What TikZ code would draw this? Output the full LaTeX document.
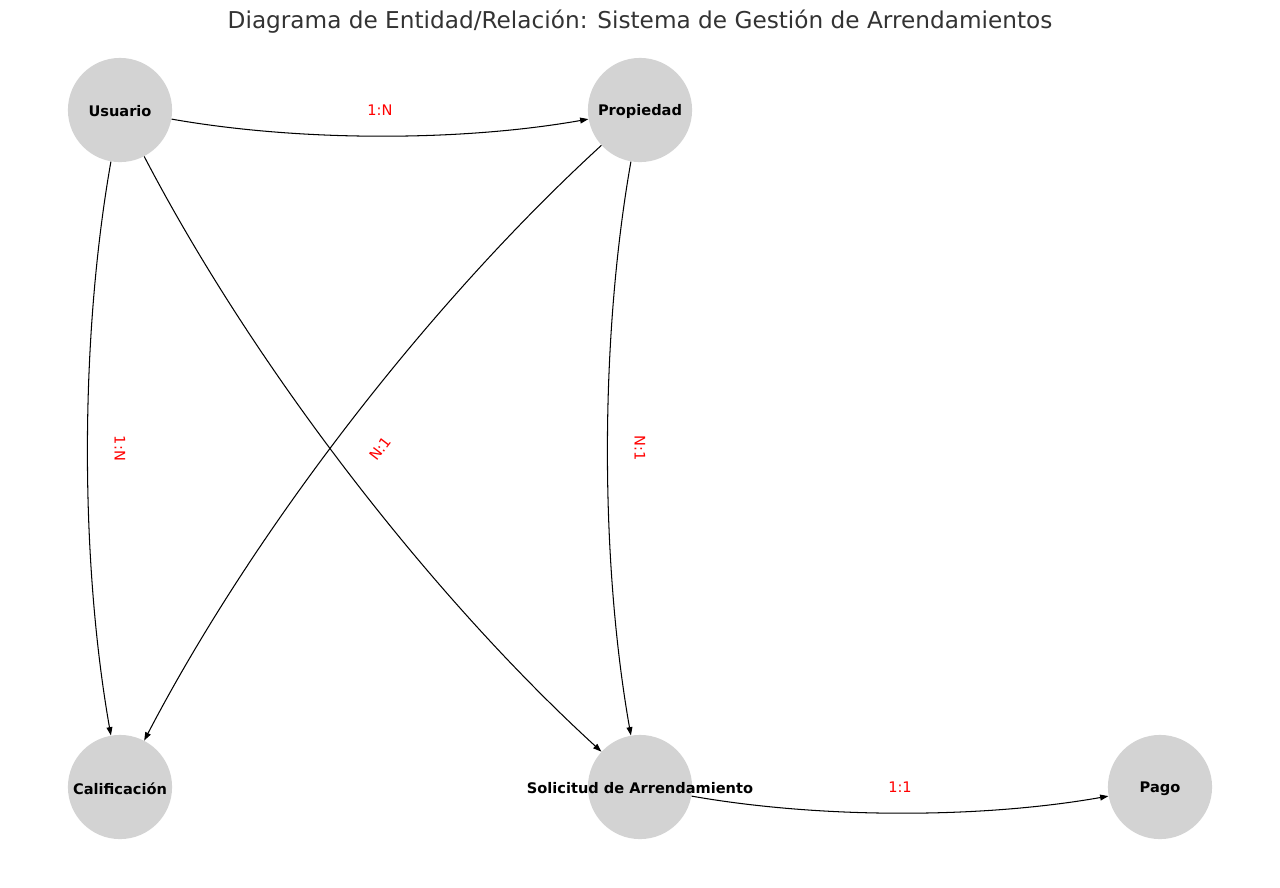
\documentclass[tikz,border=0pt]{standalone}
\usepackage{fontspec}
\setmainfont{DejaVu Sans}
\usetikzlibrary{arrows.meta,calc}
\definecolor{entgray}{HTML}{D3D3D3}

\begin{document}
\begin{tikzpicture}[x=0.72pt, y=-0.72pt,
  entity/.style={circle, fill=entgray, minimum size=75pt, inner sep=0pt},
  entname/.style={font=\fontsize{10.5}{12}\selectfont\bfseries, text=black, yshift=-1pt},
  rel/.style={-{Triangle[length=6pt, width=4.2pt]}, line width=0.75pt,
              bend right=10, looseness=0.8},
  card/.style={font=\fontsize{10.5}{12}\selectfont, text=red, fill=white, inner sep=1pt}
]
\useasboundingbox (0,0) rectangle (1280,887);

\node[font=\fontsize{16.7}{20}\selectfont, text=black!80] (title) at (640,22)
  {Diagrama de Entidad/Relación: Sistema de Gestión de Arrendamientos};

% entidades
\node[entity, label={[entname]center:Usuario}] (usr) at (120,110) {};
\node[entity, label={[entname]center:Propiedad}] (prop) at (640,110) {};
\node[entity, label={[entname]center:Calificación}] (calif) at (120,787) {};
\node[entity, label={[entname]center:Solicitud de Arrendamiento}] (sol) at (640,787) {};
\node[entity, label={[entname]center:Pago}] (pago) at (1160,787) {};

% relaciones
\draw[rel] (usr) to (prop);
\draw[rel] (usr) to (calif);
\draw[rel] (usr) to (sol);
\draw[rel] (prop) to (calif);
\draw[rel] (prop) to (sol);
\draw[rel] (sol) to (pago);

% cardinalidades
\node[card] (c1) at ($(usr)!0.5!(prop)$) {1:N};
\node[card, rotate=-90] (c2) at ($(usr)!0.5!(calif)$) {1:N};
\node[card, rotate=52.5] (c3) at ($(prop)!0.5!(calif)$) {N:1};
\node[card, rotate=-90] (c4) at ($(prop)!0.5!(sol)$) {N:1};
\node[card] (c5) at ($(sol)!0.5!(pago)$) {1:1};
\end{tikzpicture}
\end{document}
